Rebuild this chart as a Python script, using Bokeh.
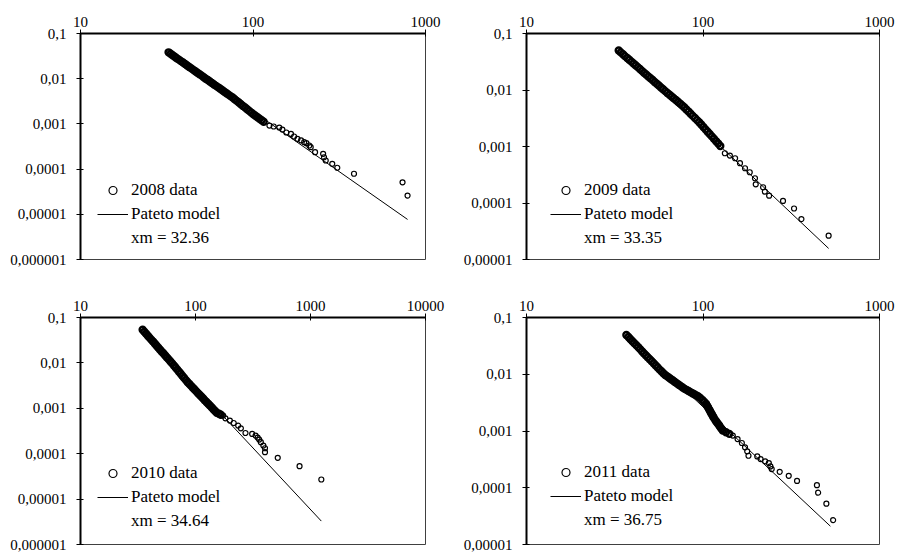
from bokeh.plotting import figure
from bokeh.layouts import row, column
from bokeh.models import (FixedTicker, Legend, LegendItem, Range1d,
                          CustomJSTickFormatter)
from bokeh.embed import file_html
from bokeh.resources import INLINE

FONT = "'Liberation Serif', 'Times New Roman', 'DejaVu Serif', serif"

# ---------------- tick labels ----------------
x_ticks = [10, 100, 1000, 10000]
x_tick_labels = ["10", "100", "1000", "10000"]
y_ticks = [1e-6, 1e-5, 1e-4, 1e-3, 1e-2, 1e-1]
y_tick_labels = ["0,000001", "0,00001", "0,0001", "0,001", "0,01", "0,1"]

years = ["2008", "2009", "2010", "2011"]
xm_labels = ["32.36", "33.35", "34.64", "36.75"]
x_max = [1000, 1000, 10000, 1000]
y_min = [1e-6, 1e-5, 1e-6, 1e-5]

# ---------------- 2008 ----------------
# dense (heavily overlapping) head of the distribution
band_x_2008 = [32.4, 33.3, 34.2, 35.2, 36.1, 37.2, 38.2, 39.3, 40.4, 41.5,
               42.7, 43.9, 45.1, 46.3, 47.6, 49.0, 50.4, 51.8, 53.2, 54.7,
               56.2, 57.8, 59.4, 61.1, 62.8, 64.6, 66.4, 68.2, 70.2, 72.1,
               74.1, 76.2, 78.3, 80.5, 82.8, 85.1, 87.5, 90.0, 92.5, 95.1,
               97.7, 100.5, 103.3, 106.2, 109.1, 112.2, 115.3]
band_y_2008 = [0.0383, 0.0356, 0.0330, 0.0306, 0.0284, 0.0264, 0.0245, 0.0228,
               0.0211, 0.0196, 0.0182, 0.0169, 0.0157, 0.0146, 0.0135, 0.0126,
               0.0117, 0.0108, 0.0100, 0.00933, 0.00867, 0.00804, 0.00747,
               0.00693, 0.00644, 0.00598, 0.00555, 0.00515, 0.00478, 0.00444,
               0.00412, 0.00383, 0.00352, 0.00323, 0.00297, 0.00272, 0.00250,
               0.00230, 0.00211, 0.00194, 0.00178, 0.00164, 0.00152, 0.00141,
               0.00130, 0.00121, 0.00112]
# sparse tail
tail_x_2008 = [124.5, 131.8, 142, 148, 156, 166, 173, 181, 190, 198, 204, 212,
               216, 229, 255, 258, 264, 288, 308, 385, 736, 787]
tail_y_2008 = [9.2e-4, 8.75e-4, 8.3e-4, 7.5e-4, 6.45e-4, 6.0e-4, 5.26e-4,
               4.68e-4, 4.3e-4, 3.94e-4, 3.74e-4, 3.33e-4, 3.05e-4, 2.37e-4,
               2.18e-4, 1.83e-4, 1.55e-4, 1.31e-4, 1.07e-4, 7.9e-5, 5.1e-5,
               2.6e-5]
model_x_2008 = [32.36, 787]
model_y_2008 = [0.0386, 7.7e-6]

# ---------------- 2009 ----------------
band_x_2009 = [33.3, 34.2, 35.2, 36.1, 37.2, 38.2, 39.3, 40.4, 41.5, 42.7,
               43.9, 45.1, 46.3, 47.6, 49.0, 50.4, 51.8, 53.2, 54.7, 56.2,
               57.8, 59.4, 61.1, 62.8, 64.6, 66.4, 68.2, 70.2, 72.1, 74.1,
               76.2, 78.3, 80.5, 82.8, 85.1, 87.5, 90.0, 92.5, 95.1, 97.7,
               100.5, 103.3, 106.2, 109.1, 112.2, 115.3, 118.6, 121.9, 125.3]
band_y_2009 = [0.0499, 0.0463, 0.0429, 0.0398, 0.0369, 0.0343, 0.0318, 0.0295,
               0.0274, 0.0254, 0.0235, 0.0218, 0.0202, 0.0188, 0.0174, 0.0162,
               0.0150, 0.0139, 0.0129, 0.0120, 0.0111, 0.0103, 0.00955,
               0.00888, 0.00826, 0.00768, 0.00714, 0.00664, 0.00618, 0.00575,
               0.00535, 0.00494, 0.00453, 0.00415, 0.00380, 0.00348, 0.00319,
               0.00293, 0.00268, 0.00245, 0.00222, 0.00201, 0.00183, 0.00166,
               0.00151, 0.00137, 0.00124, 0.00113, 0.00102]
tail_x_2009 = [133, 142, 152, 162, 173, 184, 197, 199, 219, 224, 237, 284,
               328, 361, 515]
tail_y_2009 = [7.6e-4, 6.9e-4, 6.2e-4, 5.06e-4, 4.12e-4, 3.5e-4, 2.74e-4,
               2.14e-4, 1.90e-4, 1.59e-4, 1.35e-4, 1.09e-4, 8.0e-5, 5.2e-5,
               2.64e-5]
model_x_2009 = [33.35, 515]
model_y_2009 = [0.0499, 1.57e-5]

# ---------------- 2010 ----------------
band_x_2010 = [34.7, 35.9, 37.2, 38.5, 39.8, 41.2, 42.7, 44.2, 45.7, 47.3,
               49.0, 50.7, 52.5, 54.3, 56.2, 58.2, 60.3, 62.4, 64.6, 66.8,
               69.2, 71.6, 74.1, 76.7, 79.4, 82.2, 85.1, 88.1, 91.2, 94.4,
               97.7, 101.2, 104.7, 108.4, 112.2, 116.1, 120.2, 124.5, 128.8,
               133.4, 138.0, 142.9, 147.9, 153, 160, 166]
band_y_2010 = [0.0536, 0.0485, 0.0440, 0.0398, 0.0360, 0.0326, 0.0295, 0.0267,
               0.0242, 0.0219, 0.0198, 0.0179, 0.0163, 0.0147, 0.0133, 0.0121,
               0.0109, 0.00988, 0.00890, 0.00800, 0.00719, 0.00647, 0.00582,
               0.00523, 0.00470, 0.00423, 0.00380, 0.00346, 0.00316, 0.00288,
               0.00263, 0.00239, 0.00218, 0.00199, 0.00182, 0.00166, 0.00151,
               0.00138, 0.00126, 0.00115, 0.00105, 0.000955, 0.000871,
               8.0e-4, 7.6e-4, 7.2e-4]
tail_x_2010 = [174, 182, 199, 215, 235, 248, 272, 311, 333, 347, 358, 370,
               389, 402, 402, 519, 803, 1242]
tail_y_2010 = [6.9e-4, 6.0e-4, 5.37e-4, 4.75e-4, 4.16e-4, 3.63e-4, 2.86e-4,
               2.72e-4, 2.51e-4, 2.27e-4, 2.05e-4, 1.79e-4, 1.51e-4, 1.32e-4,
               1.08e-4, 8.1e-5, 5.3e-5, 2.7e-5]
model_x_2010 = [34.64, 1242]
model_y_2010 = [0.0536, 3.28e-6]

# ---------------- 2011 ----------------
band_x_2011 = [36.8, 37.8, 38.7, 39.7, 40.7, 41.8, 42.9, 44.0, 45.1, 46.2,
               47.4, 48.6, 49.9, 51.2, 52.5, 53.8, 55.2, 56.6, 58.1, 59.6,
               61.1, 62.7, 64.3, 65.9, 67.6, 69.3, 71.1, 72.9, 74.8, 76.7,
               78.7, 80.7, 82.8, 84.9, 87.1, 89.3, 91.6, 94.0,
               96.4, 98.9, 101.4, 104.0,
               105.4, 106.7, 108.1, 109.4, 110.9, 112.2, 113.8, 115.1,
               117.5, 119.4, 121.3, 123.3, 125.3, 127.4, 129.4, 135, 141]
band_y_2011 = [0.0492, 0.0453, 0.0418, 0.0385, 0.0355, 0.0327, 0.0301, 0.0277,
               0.0255, 0.0235, 0.0217, 0.0200, 0.0184, 0.0170, 0.0156, 0.0144,
               0.0133, 0.0122, 0.0113, 0.0104,
               0.00970, 0.00917, 0.00867, 0.00819, 0.00774, 0.00731, 0.00691,
               0.00653, 0.00617, 0.00583,
               0.00553, 0.00530, 0.00506, 0.00484, 0.00463, 0.00444, 0.00425,
               0.00406,
               0.00383, 0.00354, 0.00327, 0.00302,
               0.00279, 0.00262, 0.00243, 0.00228, 0.00210, 0.00197, 0.00182,
               0.00171,
               0.00155, 0.00144, 0.00135, 0.00126, 0.00117, 0.00109, 0.00102,
               9.5e-4, 8.9e-4]
tail_x_2011 = [147.5, 157, 166, 173, 178, 181, 203, 212, 225, 236, 241, 245,
               272, 306, 341, 442, 449, 500, 546]
tail_y_2011 = [8.3e-4, 7.2e-4, 6.15e-4, 5.16e-4, 4.39e-4, 3.66e-4, 3.57e-4,
               3.2e-4, 2.92e-4, 2.72e-4, 2.38e-4, 2.13e-4, 1.91e-4, 1.62e-4,
               1.32e-4, 1.11e-4, 8.2e-5, 5.25e-5, 2.69e-5]
model_x_2011 = [36.75, 527]
model_y_2011 = [0.0492, 2.1e-5]

band_x = [band_x_2008, band_x_2009, band_x_2010, band_x_2011]
band_y = [band_y_2008, band_y_2009, band_y_2010, band_y_2011]
tail_x = [tail_x_2008, tail_x_2009, tail_x_2010, tail_x_2011]
tail_y = [tail_y_2008, tail_y_2009, tail_y_2010, tail_y_2011]
model_x = [model_x_2008, model_x_2009, model_x_2010, model_x_2011]
model_y = [model_y_2008, model_y_2009, model_y_2010, model_y_2011]

# layout per panel (page has no margin of its own; frames align per row/column)
layout = [
    dict(w=456, h=284, bl=80, br=31, bt=33, bb=25, lx=17, ly=11),
    dict(w=441, h=284, bl=70, br=18, bt=33, bb=25, lx=24, ly=11),
    dict(w=456, h=269, bl=80, br=31, bt=33, bb=9, lx=17, ly=13),
    dict(w=441, h=269, bl=70, br=18, bt=33, bb=9, lx=24, ly=14),
]

fmt_code = """
let best = 0, bd = Infinity;
for (let i = 0; i < tk.length; i++) {
  const d = Math.abs(Math.log10(tick) - Math.log10(tk[i]));
  if (d < bd) { bd = d; best = i; }
}
return lb[best];
"""


def make_panel(i):
    L = layout[i]
    p = figure(width=L["w"], height=L["h"], x_axis_type="log", y_axis_type="log",
               x_axis_location="above",
               x_range=Range1d(10, x_max[i]), y_range=Range1d(y_min[i], 0.1),
               output_backend="svg", toolbar_location=None,
               min_border_left=L["bl"], min_border_right=L["br"],
               min_border_top=L["bt"], min_border_bottom=L["bb"])
    p.grid.visible = False
    p.outline_line_color = "#404040"
    p.outline_line_width = 1
    p.background_fill_color = "white"
    p.border_fill_color = "white"

    xa = p.xaxis[0]
    ya = p.yaxis[0]
    xa.ticker = FixedTicker(ticks=x_ticks, minor_ticks=[])
    ya.ticker = FixedTicker(ticks=y_ticks, minor_ticks=[])
    xa.formatter = CustomJSTickFormatter(args=dict(tk=x_ticks, lb=x_tick_labels), code=fmt_code)
    ya.formatter = CustomJSTickFormatter(args=dict(tk=y_ticks, lb=y_tick_labels), code=fmt_code)
    for ax, standoff in ((xa, 3), (ya, 10)):
        ax.axis_line_width = 2
        ax.axis_line_color = "black"
        ax.major_tick_in = 3
        ax.major_tick_out = 4
        ax.major_tick_line_color = "black"
        ax.minor_tick_line_color = None
        ax.major_label_text_font = FONT
        ax.major_label_text_font_size = "15px"
        ax.major_label_text_color = "black"
        ax.major_label_standoff = standoff

    # heavily overlapping circles of the head merge into a solid band
    p.scatter(x=band_x[i], y=band_y[i], marker="circle", size=6,
              fill_color=None, line_color="black", line_width=2.4)
    r_data = p.scatter(x=tail_x[i], y=tail_y[i], marker="circle", size=5,
                       fill_color=None, line_color="black", line_width=1.2)
    r_model = p.line(x=model_x[i], y=model_y[i], line_color="black", line_width=1)
    r_blank = p.line(x=model_x[i], y=model_y[i], line_alpha=0)

    legend = Legend(items=[
        LegendItem(label=f"{years[i]} data", renderers=[r_data]),
        LegendItem(label="Pateto model", renderers=[r_model]),
        LegendItem(label=f"xm = {xm_labels[i]}", renderers=[r_blank]),
    ], location=(L["lx"], L["ly"]), padding=0, margin=0, spacing=4,
        glyph_width=31, glyph_height=20, label_height=20, label_standoff=3,
        label_text_font=FONT, label_text_font_size="17px",
        label_text_color="black",
        border_line_color=None, background_fill_alpha=0)
    p.add_layout(legend)
    return p


panels = [make_panel(i) for i in range(4)]
page = column(row(panels[0], panels[1], spacing=0),
              row(panels[2], panels[3], spacing=0), spacing=0)

open("out.html", "w").write(file_html(page, INLINE))
